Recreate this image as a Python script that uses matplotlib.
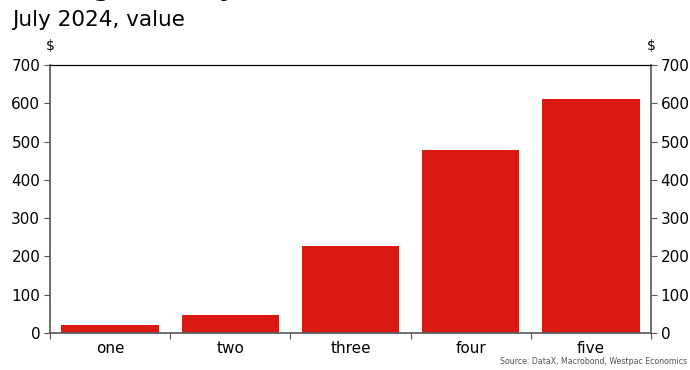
import numpy as np
import matplotlib.pyplot as plt

plt.rcParams['font.family'] = ['DejaVu Sans']

categories = ["one", "two", "three", "four", "five"]
values = [20, 48, 228, 477, 610]
yticks = [0, 100, 200, 300, 400, 500, 600, 700]

red = '#DA1A12'
grey = '#555555'

fig = plt.figure(figsize=(6.9, 3.7), dpi=100)
ax = fig.add_axes([0.0725, 0.1, 0.871, 0.7243])

x = np.arange(len(categories))
ax.bar(x, values, width=0.81, color=red, zorder=2)

ax.set_xlim(-0.5, len(categories) - 0.5)
ax.set_ylim(0, 700)
ax.set_yticks(yticks)

# boundary ticks between categories, labels sit on minor ticks at the centres
ax.set_xticks(np.arange(len(categories) + 1) - 0.5)
ax.set_xticklabels([])
ax.set_xticks(x, minor=True)
ax.set_xticklabels(categories, minor=True)
ax.tick_params(axis='x', which='minor', length=0, labelsize=11, pad=6)
ax.tick_params(axis='x', which='major', length=4, direction='out', color=grey)
ax.tick_params(axis='y', length=4, direction='out', color=grey, labelsize=11,
               right=True, labelright=True, pad=3)

for side in ['left', 'right', 'bottom']:
    ax.spines[side].set_color(grey)
    ax.spines[side].set_linewidth(1.2)
ax.spines['top'].set_color('black')
ax.spines['top'].set_linewidth(0.9)

ax.text(0, 1.045, '$', transform=ax.transAxes, ha='center', va='bottom', fontsize=10)
ax.text(1, 1.045, '$', transform=ax.transAxes, ha='center', va='bottom', fontsize=10)

fig.text(0.017, 1.012, 'Average weekly', fontsize=18, fontweight='bold', va='baseline')
fig.text(0.017, 0.93, 'July 2024, value', fontsize=15.5, va='baseline')
fig.text(0.996, 0.012, 'Source: DataX, Macrobond, Westpac Economics',
         fontsize=5.7, color='#555555', ha='right', va='bottom')

fig.savefig('out.png', dpi=100)
